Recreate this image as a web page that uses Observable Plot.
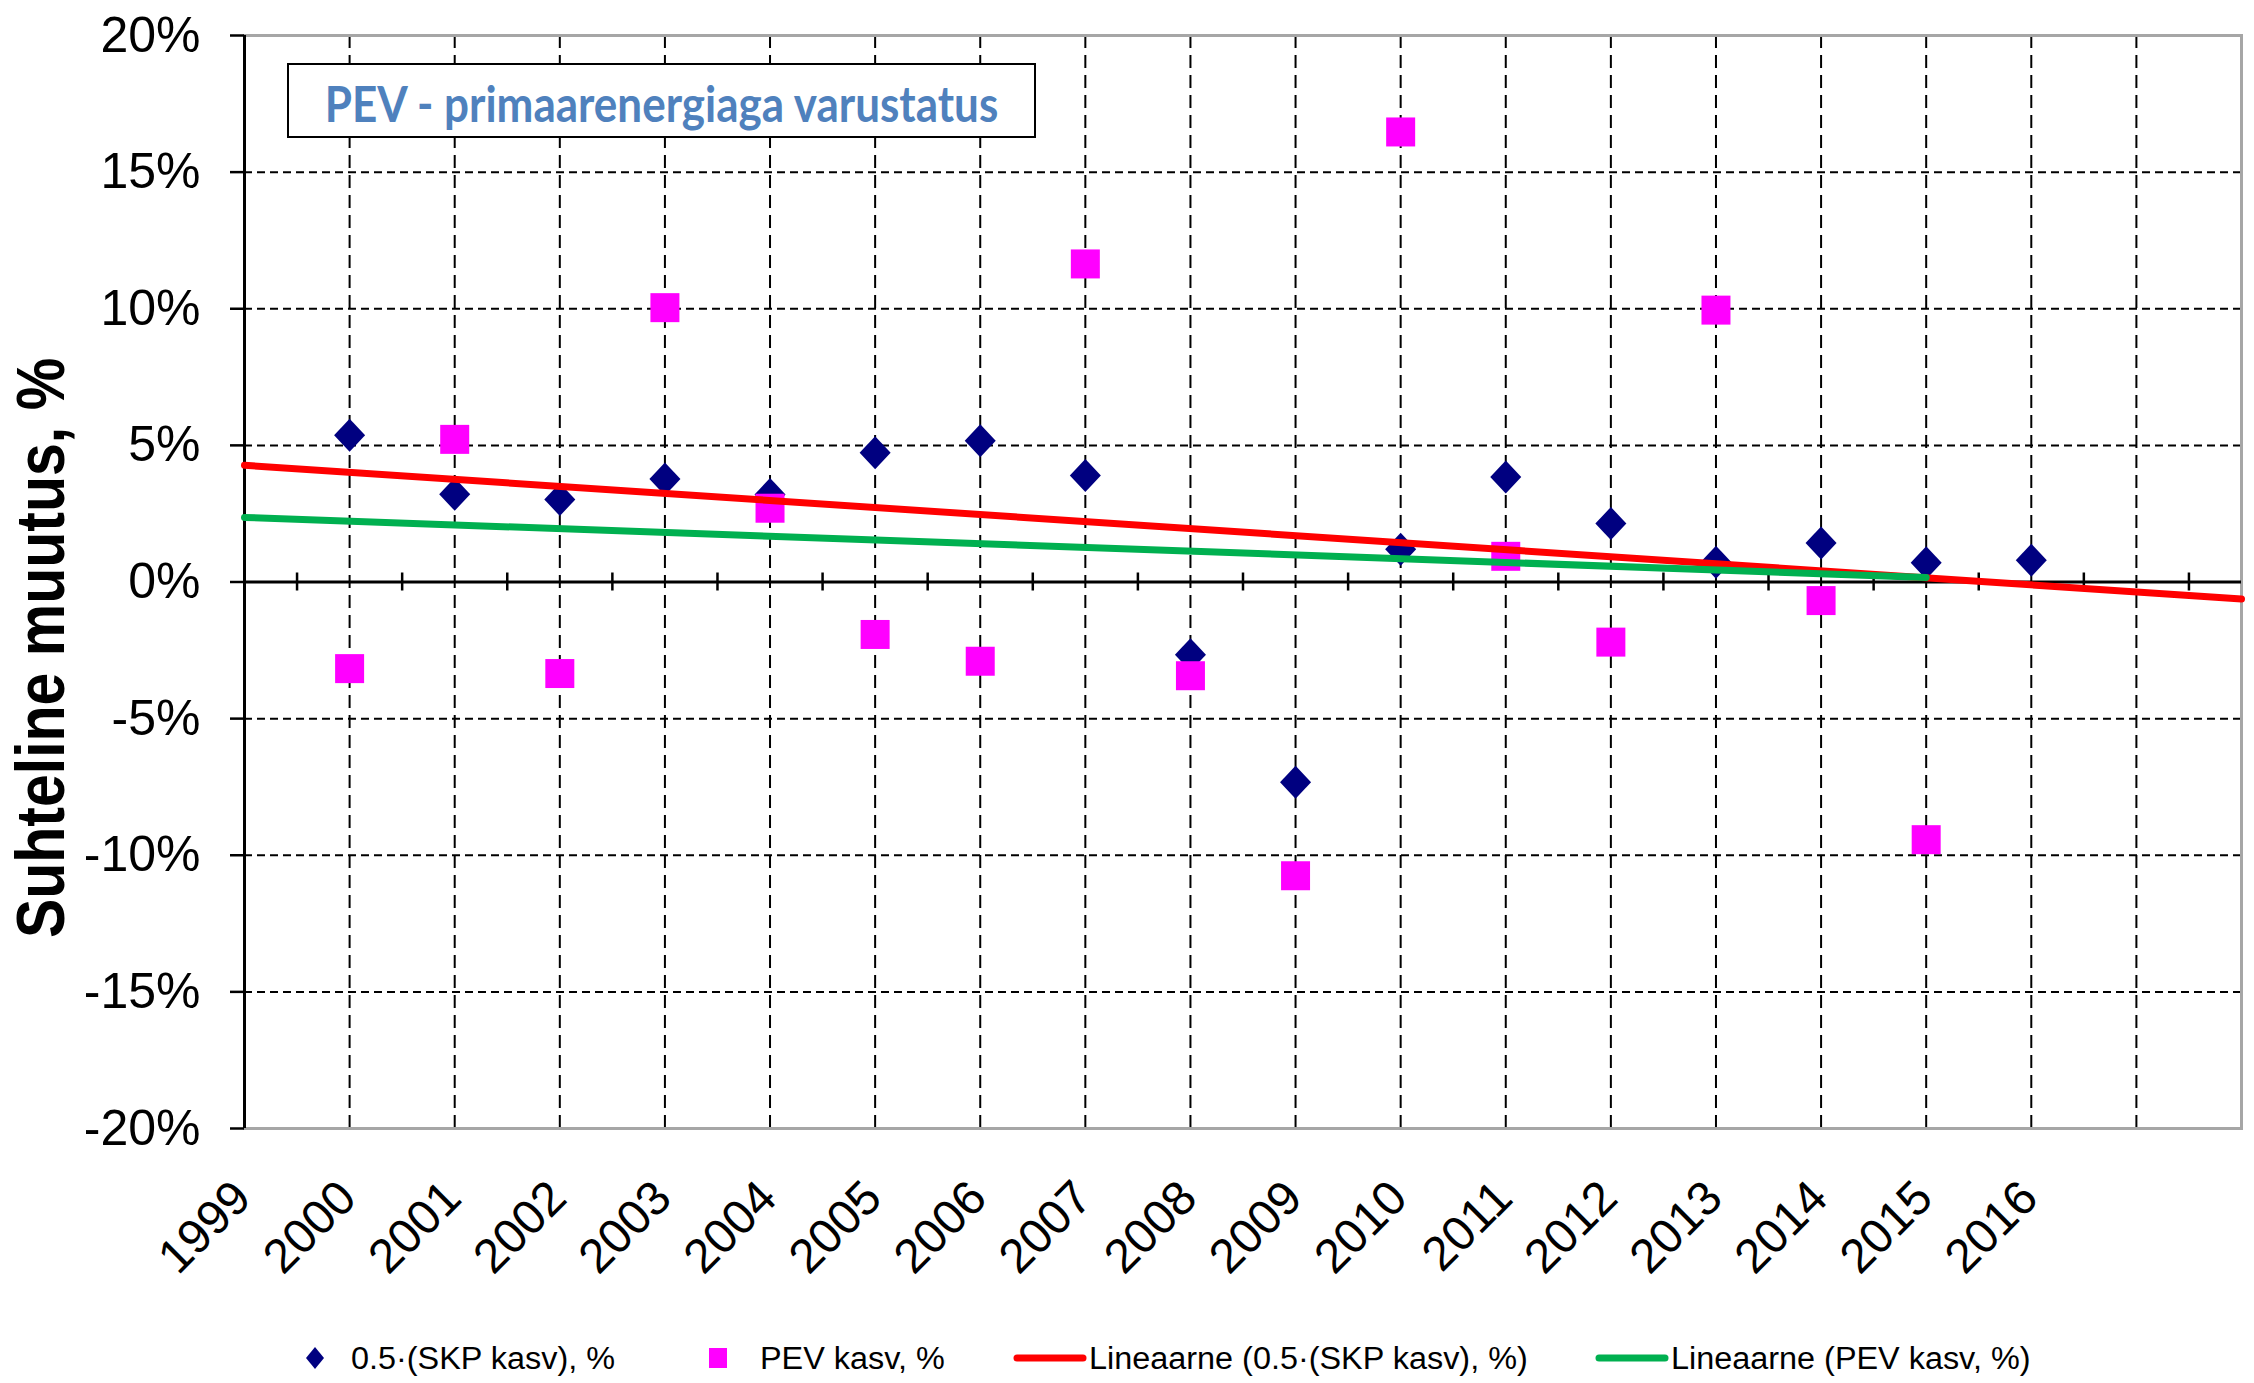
<!DOCTYPE html>
<html>
<head>
<meta charset="utf-8">
<script src="https://cdn.jsdelivr.net/npm/d3@7"></script>
<script src="https://cdn.jsdelivr.net/npm/@observablehq/plot@0.6"></script>
<style>
  html, body { margin: 0; padding: 0; background: #fff; }
  #wrap { position: relative; width: 2254px; height: 1383px; font-family: "Liberation Sans", Arial, sans-serif; color: #000; overflow: hidden; }
  #chart svg { display: block; }
  #ytitle { position: absolute; left: 42px; top: 648px; white-space: nowrap; line-height: 1; font-size: 59px; font-weight: bold;
            transform: translate(-50%, -50%) scaleX(1.15) rotate(-90deg); }
  #titlebox { position: absolute; left: 287px; top: 63px; width: 745px; height: 67px; border: 2.5px solid #000; background: #fff;
              display: flex; align-items: center; justify-content: center; font-family: Lato, "Open Sans", sans-serif; font-weight: bold;
              font-size: 44px; color: #4F81BD; white-space: nowrap; padding-top: 4px; box-sizing: content-box; }
  #titlebox span { display: inline-block; transform: scaleY(1.12); }
  #legend { position: relative; width: 2254px; height: 83px; }
  .lg-item { position: absolute; }
  .lg-text { position: absolute; top: 43px; font-size: 31px; line-height: 31px; white-space: nowrap; transform: scaleX(1.045); transform-origin: 0 50%; }
</style>
</head>
<body>
<div id="wrap">
  <div id="chart"></div>
  <div id="legend"></div>
  <div id="ytitle">Suhteline muutus, %</div>
  <div id="titlebox"><span>PEV - primaarenergiaga varustatus</span></div>
</div>
<script>
// ---- data ----
const years = [2000, 2001, 2002, 2003, 2004, 2005, 2006, 2007, 2008, 2009, 2010, 2011, 2012, 2013, 2014, 2015, 2016];
const skpHalfGrowth = [5.37, 3.21, 3.02, 3.77, 3.2, 4.73, 5.17, 3.9, -2.66, -7.33, 1.2, 3.84, 2.14, 0.72, 1.43, 0.7, 0.8];
const pevGrowth = [-3.17, 5.22, -3.35, 10.04, 2.7, -1.92, -2.9, 11.64, -3.43, -10.75, 16.47, 0.94, -2.2, 9.95, -0.68, -9.43, null];
const xTickLabels = [1999, 2000, 2001, 2002, 2003, 2004, 2005, 2006, 2007, 2008, 2009, 2010, 2011, 2012, 2013, 2014, 2015, 2016];
const yTicks = [-20, -15, -10, -5, 0, 5, 10, 15, 20];
const seriesNames = ["0.5\u00b7(SKP kasv), %", "PEV kasv, %", "Lineaarne (0.5\u00b7(SKP kasv), %)", "Lineaarne (PEV kasv, %)"];
// trendline extents (Excel forecast settings)
const skpTrendSpan = [1999, 2018];
const pevTrendSpan = [1999, 2015];
const xDomain = [1999, 2018];
const yDomain = [-20, 20];

// ---- derived ----
const skpData = years.map((year, i) => ({year, value: skpHalfGrowth[i]})).filter(d => d.value != null);
const pevData = years.map((year, i) => ({year, value: pevGrowth[i]})).filter(d => d.value != null);

function linearFit(data) {
  const mx = d3.mean(data, d => d.year), my = d3.mean(data, d => d.value);
  const b = d3.sum(data, d => (d.year - mx) * (d.value - my)) / d3.sum(data, d => (d.year - mx) ** 2);
  const a = my - b * mx;
  return x => a + b * x;
}
const fSkp = linearFit(skpData), fPev = linearFit(pevData);
const skpTrend = skpTrendSpan.map(x => ({year: x, value: fSkp(x)}));
const pevTrend = pevTrendSpan.map(x => ({year: x, value: fPev(x)}));

const gridX = d3.range(xDomain[0] + 1, xDomain[1], 1);
const minorX = d3.range(xDomain[0] + 0.5, xDomain[1], 1);
const gridY = yTicks.filter(v => v !== 0 && v !== yDomain[0]);

const diamondSym = {draw(ctx, size) { const r = Math.sqrt(size / Math.PI); ctx.moveTo(0, -r); ctx.lineTo(r * 0.94, 0); ctx.lineTo(0, r); ctx.lineTo(-r * 0.94, 0); ctx.closePath(); }};
const squareSym = {draw(ctx, size) { const r = Math.sqrt(size / Math.PI); ctx.rect(-r, -r, 2 * r, 2 * r); }};

const NAVY = "#000080", MAGENTA = "#FF00FF", RED = "#FF0000", GREEN = "#00B050";

const chart = Plot.plot({
  width: 2254,
  height: 1300,
  marginLeft: 244,
  marginRight: 13,
  marginTop: 35,
  marginBottom: 172,
  x: {domain: xDomain, axis: null},
  y: {domain: yDomain, axis: null},
  style: {fontFamily: "'Liberation Sans', Arial, sans-serif", background: "#fff", color: "#000"},
  marks: [
    Plot.ruleX(gridX, {stroke: "#000", strokeWidth: 2, strokeDasharray: "13,7"}),
    Plot.ruleY(gridY, {stroke: "#000", strokeWidth: 2, strokeDasharray: "8,5"}),
    Plot.frame({stroke: "#a6a6a6", strokeWidth: 3}),
    Plot.ruleX(minorX, {y1: 0, y2: 0, insetTop: -9, insetBottom: -9, stroke: "#000", strokeWidth: 2.5}),
    Plot.ruleY([0], {stroke: "#000", strokeWidth: 3}),
    Plot.ruleX([xDomain[0]], {stroke: "#000", strokeWidth: 3}),
    Plot.axisY(yTicks, {anchor: "left", label: null, tickSize: 14, tickPadding: 30, tickFormat: d => d + "%", fontSize: 50, strokeWidth: 2.5}),
    Plot.text(xTickLabels, {x: d => d, text: d => String(d), frameAnchor: "bottom", rotate: -45, textAnchor: "end", lineAnchor: "bottom", dx: 9, dy: 72, fontSize: 48, fill: "#000"}),
    Plot.dot(skpData, {x: "year", y: "value", symbol: diamondSym, r: 16.5, fill: NAVY, stroke: "none"}),
    Plot.dot(pevData, {x: "year", y: "value", symbol: squareSym, r: 14.5, fill: MAGENTA, stroke: "none"}),
    Plot.line(skpTrend, {x: "year", y: "value", stroke: RED, strokeWidth: 7}),
    Plot.line(pevTrend, {x: "year", y: "value", stroke: GREEN, strokeWidth: 7, strokeLinecap: "round"})
  ]
});
document.getElementById("chart").appendChild(chart);

// ---- legend ----
const legend = document.getElementById("legend");
const items = [
  {name: seriesNames[0], kind: "diamond", color: NAVY, mx: 315, tx: 351},
  {name: seriesNames[1], kind: "square", color: MAGENTA, mx: 718, tx: 760},
  {name: seriesNames[2], kind: "line", color: RED, mx: 1050, tx: 1089},
  {name: seriesNames[3], kind: "line", color: GREEN, mx: 1632, tx: 1671}
];
for (const it of items) {
  const svg = d3.create("svg").attr("class", "lg-item").attr("width", 80).attr("height", 30)
    .style("left", (it.mx - 40) + "px").style("top", (58 - 15) + "px");
  if (it.kind === "diamond") svg.append("path").attr("d", "M40,4 L49,15 L40,26 L31,15 Z").attr("fill", it.color);
  else if (it.kind === "square") svg.append("rect").attr("x", 31).attr("y", 5).attr("width", 18).attr("height", 20).attr("fill", it.color);
  else svg.append("line").attr("x1", 7).attr("x2", 73).attr("y1", 15).attr("y2", 15).attr("stroke", it.color).attr("stroke-width", 7).attr("stroke-linecap", "round");
  legend.appendChild(svg.node());
  const t = document.createElement("div");
  t.className = "lg-text";
  t.style.left = it.tx + "px";
  t.textContent = it.name;
  legend.appendChild(t);
}
</script>
</body>
</html>
